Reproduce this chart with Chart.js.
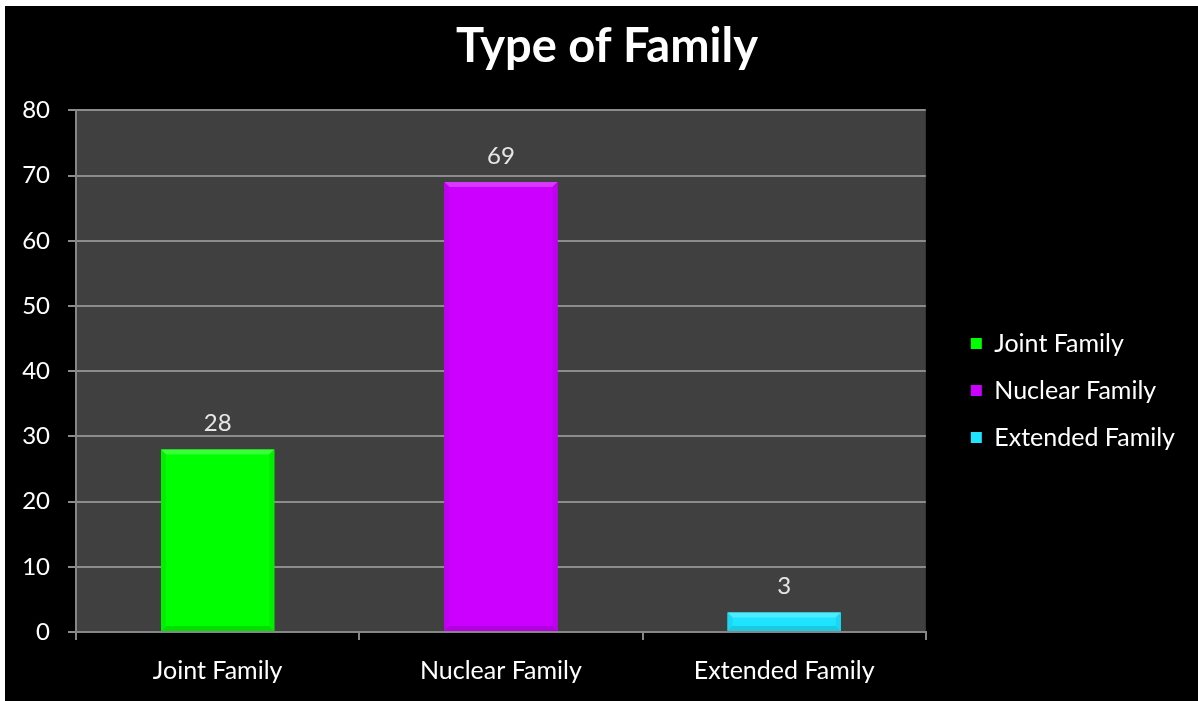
<!DOCTYPE html>
<html>
<head>
<meta charset="utf-8">
<script src="https://cdn.jsdelivr.net/npm/chart.js@4"></script>
<style>
  html, body { margin: 0; padding: 0; background: #ffffff; }
  #wrap { position: absolute; left: 5px; top: 6px; width: 1193px; height: 695px; background: #000000; }
  canvas { display: block; }
</style>
</head>
<body>
<div id="wrap"><canvas id="chart" width="1193" height="695"></canvas></div>
<script>
// Family types and their counts
const categories = ['Joint Family', 'Nuclear Family', 'Extended Family'];
const counts = [28, 69, 3];
const barColors = ['#00ff00', '#cc00ff', '#1fe4ff'];
const yTicks = [0, 10, 20, 30, 40, 50, 60, 70, 80];

const FONT = 'Lato, "Open Sans", sans-serif';
const PLOT_RIGHT = 922;   // right edge of the plot area on the canvas
const LEGEND_SHIFT = { x: 23, y: 37 };

function shade(hex, amt) {
  const n = parseInt(hex.slice(1), 16);
  let r = (n >> 16) & 255, g = (n >> 8) & 255, b = n & 255;
  const f = c => Math.max(0, Math.min(255, Math.round(amt >= 0 ? c + (255 - c) * amt : c * (1 + amt))));
  return `rgb(${f(r)},${f(g)},${f(b)})`;
}

// Dark grey plot area behind the bars
const plotBackground = {
  id: 'plotBackground',
  beforeDraw(chart) {
    const { ctx, chartArea: a } = chart;
    ctx.save();
    ctx.fillStyle = '#404040';
    ctx.fillRect(a.left, a.top, a.right - a.left, a.bottom - a.top);
    ctx.restore();
  }
};

// Centre the title on the whole canvas and nudge the legend block
const placement = {
  id: 'placement',
  afterLayout(chart) {
    const t = chart.titleBlock;
    if (t) { t.left = 0; t.right = chart.width + 11; }
    const l = chart.legend;
    if (l) {
      l.left += LEGEND_SHIFT.x; l.right += LEGEND_SHIFT.x;
      l.top += LEGEND_SHIFT.y; l.bottom += LEGEND_SHIFT.y;
    }
  }
};

// Bevelled edges and value labels on each bar
const barDecor = {
  id: 'barDecor',
  afterDatasetsDraw(chart) {
    const { ctx } = chart;
    const meta = chart.getDatasetMeta(0);
    meta.data.forEach((bar, i) => {
      const { x, y, base, width } = bar.getProps(['x', 'y', 'base', 'width'], true);
      const l = x - width / 2, r = x + width / 2;
      const h = base - y;
      const bev = Math.min(5, h / 2);
      const col = barColors[i];
      ctx.save();
      // top bevel
      ctx.fillStyle = shade(col, 0.22);
      ctx.beginPath();
      ctx.moveTo(l, y); ctx.lineTo(r, y); ctx.lineTo(r - bev, y + bev); ctx.lineTo(l + bev, y + bev);
      ctx.closePath(); ctx.fill();
      // side bevels
      ctx.fillStyle = shade(col, -0.06);
      ctx.beginPath();
      ctx.moveTo(l, y); ctx.lineTo(l + bev, y + bev); ctx.lineTo(l + bev, base - bev); ctx.lineTo(l, base);
      ctx.closePath(); ctx.fill();
      ctx.beginPath();
      ctx.moveTo(r, y); ctx.lineTo(r - bev, y + bev); ctx.lineTo(r - bev, base - bev); ctx.lineTo(r, base);
      ctx.closePath(); ctx.fill();
      // bottom bevel
      ctx.fillStyle = shade(col, -0.12);
      ctx.beginPath();
      ctx.moveTo(l, base); ctx.lineTo(r, base); ctx.lineTo(r - bev, base - bev); ctx.lineTo(l + bev, base - bev);
      ctx.closePath(); ctx.fill();
      // value label
      ctx.fillStyle = '#e6e6e6';
      ctx.font = '24px ' + FONT;
      ctx.textAlign = 'center';
      ctx.textBaseline = 'bottom';
      ctx.fillText(String(counts[i]), x, y - 14);
      ctx.restore();
    });
  }
};

new Chart(document.getElementById('chart'), {
  type: 'bar',
  data: {
    labels: categories,
    datasets: [{
      data: counts,
      backgroundColor: barColors,
      borderWidth: 0,
      barPercentage: 0.4,
      categoryPercentage: 1.0
    }]
  },
  options: {
    responsive: false,
    animation: false,
    layout: { padding: { left: 0, right: 36, top: 0, bottom: 0 } },
    plugins: {
      title: {
        display: true,
        text: 'Type of Family',
        color: '#ffffff',
        font: { family: FONT, size: 47, weight: 'bold', lineHeight: 1.2 },
        padding: { top: 13, bottom: 35 }
      },
      legend: {
        position: 'right',
        labels: {
          color: '#ffffff',
          font: { family: FONT, size: 25 },
          boxWidth: 11,
          boxHeight: 11,
          padding: 22,
          generateLabels() {
            return categories.map((c, i) => ({
              text: c,
              fillStyle: barColors[i],
              strokeStyle: barColors[i],
              lineWidth: 0,
              fontColor: '#ffffff',
              index: i
            }));
          }
        }
      },
      tooltip: { enabled: false }
    },
    scales: {
      x: {
        offset: true,
        grid: {
          offset: true,
          drawOnChartArea: false,
          drawTicks: true,
          tickLength: 8,
          color: '#868686',
          lineWidth: 2
        },
        border: { color: '#868686', width: 2 },
        ticks: { color: '#ffffff', font: { family: FONT, size: 25 }, padding: 16 },
        afterFit(s) { s.height = 69; }
      },
      y: {
        min: 0,
        max: 80,
        afterBuildTicks(s) { s.ticks = yTicks.map(v => ({ value: v })); },
        grid: { color: '#8c8c8c', lineWidth: 2, drawTicks: true, tickLength: 8 },
        border: { color: '#868686', width: 2 },
        ticks: { color: '#ffffff', font: { family: FONT, size: 24 }, padding: 18 },
        afterFit(s) { s.width = 71; }
      }
    }
  },
  plugins: [plotBackground, placement, barDecor]
});
</script>
</body>
</html>
